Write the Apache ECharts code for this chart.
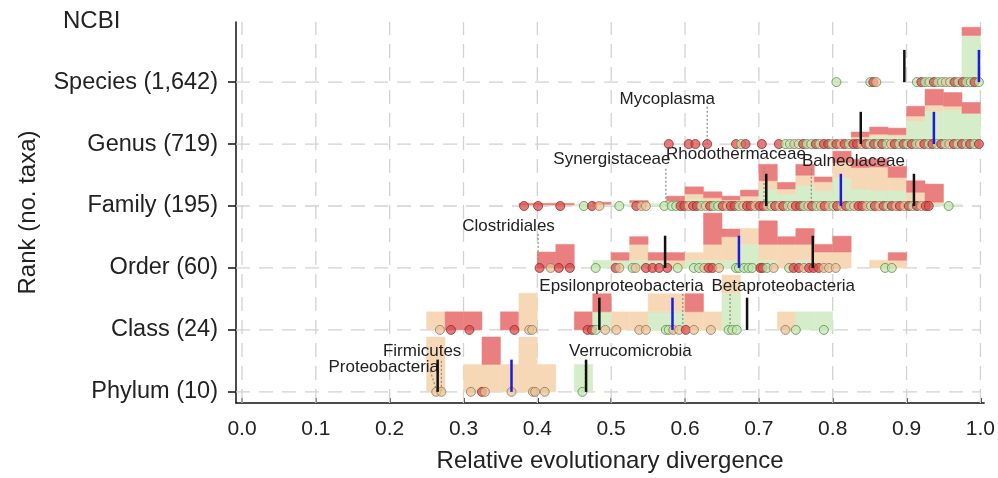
<!DOCTYPE html>
<html>
<head>
<meta charset="utf-8">
<script src="https://cdn.jsdelivr.net/npm/echarts@6/dist/echarts.min.js"></script>
<style>
html, body { margin: 0; padding: 0; background: #fff; }
#chart { width: 998px; height: 478px; }
</style>
</head>
<body>
<div id="chart"></div>
<script>
const ranks = ['Phylum (10)', 'Class (24)', 'Order (60)', 'Family (195)', 'Genus (719)', 'Species (1,642)'];
const xTicks = [0, 0.1, 0.2, 0.3, 0.4, 0.5, 0.6, 0.7, 0.8, 0.9, 1.0];
const binWidth = 0.025;

// histogram bins: [bin start, green, tan, red], % of the tallest bin of the rank
const phylumBins = [
  [0.250, 0, 100, 0], [0.300, 0, 50, 0], [0.325, 0, 50, 50], [0.350, 0, 50, 0],
  [0.375, 0, 100, 0], [0.400, 0, 50, 0], [0.450, 50, 0, 0]
];
const classBins = [
  [0.250, 0, 33, 0], [0.275, 0, 0, 33], [0.300, 0, 0, 33], [0.350, 0, 0, 33],
  [0.375, 0, 67, 0], [0.450, 0, 0, 33], [0.475, 33, 0, 33], [0.500, 0, 33, 0],
  [0.525, 0, 33, 0], [0.550, 33, 33, 0], [0.575, 33, 33, 0], [0.600, 0, 33, 33],
  [0.625, 0, 33, 0], [0.650, 67, 33, 0], [0.725, 0, 33, 0], [0.750, 33, 0, 0],
  [0.775, 33, 0, 0]
];
const orderBins = [
  [0.400, 0, 0, 29], [0.425, 0, 0, 43], [0.475, 14, 0, 0], [0.500, 14, 0, 14],
  [0.525, 14, 29, 14], [0.550, 14, 0, 14], [0.575, 0, 14, 14], [0.600, 14, 14, 0],
  [0.625, 14, 29, 57], [0.650, 14, 43, 14], [0.675, 43, 29, 0], [0.700, 14, 29, 43],
  [0.725, 0, 43, 14], [0.750, 14, 29, 29], [0.775, 0, 29, 14], [0.800, 0, 29, 29],
  [0.850, 0, 14, 0], [0.875, 0, 14, 14]
];
const familyBins = [
  [0.375, 2, 0, 3], [0.400, 2, 0, 3], [0.425, 2, 0, 3], [0.450, 3, 0, 0],
  [0.475, 3, 0, 4], [0.500, 3, 0, 0], [0.525, 3, 3, 4], [0.550, 4, 0, 0],
  [0.575, 7, 2, 9], [0.600, 13, 9, 13], [0.625, 9, 6, 11], [0.650, 7, 4, 7],
  [0.675, 9, 9, 11], [0.700, 31, 15, 30], [0.725, 22, 9, 12], [0.750, 37, 19, 20],
  [0.775, 28, 16, 9], [0.800, 52, 27, 21], [0.825, 31, 39, 15], [0.850, 28, 43, 15],
  [0.875, 28, 24, 20], [0.900, 7, 18, 21], [0.925, 4, 3, 33], [0.950, 3, 0, 0]
];
const genusBins = [
  [0.800, 0, 0, 5], [0.825, 9, 4, 9], [0.850, 14, 4, 13], [0.875, 13, 4, 12],
  [0.900, 42, 9, 18], [0.925, 60, 11, 29], [0.950, 62, 7, 25], [0.975, 56, 0, 20]
];
const speciesBins = [
  [0.975, 85, 0, 15]
];
const rankBins = [phylumBins, classBins, orderBins, familyBins, genusBins, speciesBins];

// taxa: [relative evolutionary divergence, group]  g / t / r
const phylumTaxa = [
  [0.263, 't'], [0.270, 't'], [0.310, 't'], [0.325, 'r'], [0.329, 't'], [0.365, 't'],
  [0.394, 't'], [0.397, 't'], [0.410, 't'], [0.461, 'g']
];
const classTaxa = [
  [0.268, 't'], [0.283, 'r'], [0.308, 'r'], [0.369, 'r'], [0.389, 't'], [0.393, 't'],
  [0.468, 'r'], [0.474, 'r'], [0.479, 'g'], [0.492, 't'], [0.507, 't'], [0.538, 't'],
  [0.547, 't'], [0.574, 'g'], [0.578, 'g'], [0.584, 't'], [0.592, 't'], [0.601, 'r'],
  [0.612, 't'], [0.635, 't'], [0.659, 'g'], [0.664, 'g'], [0.670, 'g'], [0.736, 't'],
  [0.750, 'g'], [0.788, 'g']
];
const orderTaxa = [
  [0.403, 'r'], [0.418, 't'], [0.429, 'r'], [0.444, 'r'], [0.479, 'g'], [0.506, 'r'],
  [0.511, 't'], [0.529, 'g'], [0.533, 't'], [0.547, 'r'], [0.556, 'r'], [0.565, 'r'],
  [0.576, 'r'], [0.590, 'g'], [0.612, 'g'], [0.619, 'g'], [0.626, 't'], [0.632, 'r'],
  [0.637, 'r'], [0.646, 't'], [0.669, 'g'], [0.673, 'g'], [0.680, 'g'], [0.686, 'g'],
  [0.691, 'g'], [0.702, 'r'], [0.705, 'r'], [0.711, 'g'], [0.720, 't'], [0.741, 'g'],
  [0.747, 'r'], [0.754, 'r'], [0.761, 't'], [0.768, 'r'], [0.774, 'r'], [0.781, 'r'],
  [0.788, 't'], [0.795, 't'], [0.804, 't'], [0.871, 'g'], [0.880, 'g']
];
const familyTaxa = [
  [0.382, 'r'], [0.401, 'r'], [0.431, 'r'], [0.463, 'g'], [0.474, 'r'], [0.484, 't'],
  [0.511, 'g'], [0.534, 'r'], [0.541, 't'], [0.547, 't'], [0.572, 'g'], [0.582, 'g'],
  [0.588, 'g'], [0.594, 'r'], [0.599, 'r'], [0.605, 't'], [0.611, 'r'], [0.616, 'r'],
  [0.622, 'g'], [0.628, 't'], [0.634, 'r'], [0.639, 'g'], [0.645, 'g'], [0.651, 'r'],
  [0.657, 't'], [0.662, 'r'], [0.667, 'r'], [0.673, 'g'], [0.679, 't'], [0.684, 'r'],
  [0.689, 'r'], [0.695, 't'], [0.701, 'r'], [0.706, 'r'], [0.711, 't'], [0.717, 'g'],
  [0.722, 'r'], [0.728, 't'], [0.733, 'r'], [0.739, 'g'], [0.745, 't'], [0.750, 'r'],
  [0.756, 'r'], [0.761, 'g'], [0.767, 't'], [0.772, 'r'], [0.778, 'g'], [0.784, 't'],
  [0.789, 'r'], [0.795, 't'], [0.801, 'g'], [0.806, 'r'], [0.812, 't'], [0.818, 'r'],
  [0.823, 'g'], [0.829, 't'], [0.835, 'r'], [0.840, 'r'], [0.846, 't'], [0.852, 'g'],
  [0.857, 'r'], [0.863, 't'], [0.869, 'r'], [0.874, 'g'], [0.880, 'r'], [0.886, 't'],
  [0.891, 'r'], [0.897, 't'], [0.903, 'r'], [0.908, 'g'], [0.914, 'r'], [0.920, 't'],
  [0.926, 'r'], [0.930, 'r'], [0.957, 'g']
];
const genusTaxa = [
  [0.578, 'r'], [0.605, 'r'], [0.614, 'r'], [0.630, 'r'], [0.669, 'r'], [0.676, 'g'],
  [0.682, 'r'], [0.704, 'r'], [0.727, 'r'], [0.736, 'g'], [0.742, 'g'], [0.748, 't'],
  [0.754, 'g'], [0.760, 'r'], [0.765, 'g'], [0.771, 'g'], [0.777, 'r'], [0.782, 'g'],
  [0.788, 'r'], [0.794, 'r'], [0.799, 'g'], [0.805, 'r'], [0.811, 't'], [0.816, 'r'],
  [0.822, 'g'], [0.828, 'r'], [0.833, 'r'], [0.839, 't'], [0.845, 'r'], [0.850, 'g'],
  [0.856, 'r'], [0.862, 'g'], [0.867, 'r'], [0.873, 'g'], [0.879, 't'], [0.884, 'r'],
  [0.890, 'g'], [0.896, 'r'], [0.901, 'g'], [0.907, 'r'], [0.913, 'g'], [0.918, 't'],
  [0.924, 'r'], [0.930, 'g'], [0.935, 'r'], [0.941, 'g'], [0.947, 'r'], [0.952, 'g'],
  [0.958, 't'], [0.964, 'r'], [0.969, 'g'], [0.975, 'r'], [0.981, 'g'], [0.986, 'r'],
  [0.992, 'g'], [0.998, 'r']
];
const speciesTaxa = [
  [0.805, 'g'], [0.851, 'g'], [0.855, 'r'], [0.859, 't'], [0.914, 'g'], [0.920, 'r'],
  [0.925, 'g'], [0.931, 'g'], [0.937, 'r'], [0.942, 'g'], [0.948, 'g'], [0.953, 't'],
  [0.959, 'g'], [0.965, 'r'], [0.970, 'g'], [0.976, 'r'], [0.981, 'g'], [0.987, 'g'],
  [0.992, 'r'], [0.998, 'g']
];
const rankTaxa = [phylumTaxa, classTaxa, orderTaxa, familyTaxa, genusTaxa, speciesTaxa];

// vertical markers: [rank index, value]
const blackMarks = [
  [0, 0.265], [0, 0.466], [1, 0.484], [1, 0.684], [2, 0.573], [2, 0.773],
  [3, 0.710], [3, 0.910], [4, 0.838], [5, 0.897]
];
const blueMarks = [
  [0, 0.365], [1, 0.583], [2, 0.673], [3, 0.811], [4, 0.937], [5, 0.998]
];

// labelled taxa: [name, rank index, value]
const annotations = [
  ['Mycoplasma', 4, 0.630],
  ['Synergistaceae', 3, 0.574],
  ['Rhodothermaceae', 3, 0.707],
  ['Balneolaceae', 3, 0.771],
  ['Clostridiales', 2, 0.401],
  ['Epsilonproteobacteria', 1, 0.597],
  ['Betaproteobacteria', 1, 0.661],
  ['Firmicutes', 0, 0.270],
  ['Proteobacteria', 0, 0.264],
  ['Verrucomicrobia', 0, 0.465]
];
// label layout: [label centre x, label height above rank, leader top, leader top x]
const labelSpots = [
  [0.576, 0.72, 0.60, null],
  [0.501, 0.76, 0.60, null],
  [0.669, 0.84, 0.63, null],
  [0.828, 0.72, 0.60, null],
  [0.361, 0.675, 0.55, null],
  [0.514, 0.707, 0.58, null],
  [0.733, 0.707, 0.58, null],
  [0.244, 0.66, 0.50, null],
  [0.192, 0.40, 0.34, 0.255],
  [0.526, 0.66, 0.50, null]
];

const X_MIN = -0.0081, X_MAX = 1.005, Y_MIN = -0.18, Y_MAX = 5.97;
const HIST_SCALE = 0.885 / 100;
const MARK_LEN = 0.52;
const histColors = ['#d5edc9', '#f7d8b6', '#ea7f7f'];
const pointStyle = {
  g: { color: 'rgba(196,228,176,0.9)', borderColor: '#5d8f4c' },
  t: { color: 'rgba(236,194,148,0.9)', borderColor: '#8d7b62' },
  r: { color: 'rgba(222,72,72,0.9)', borderColor: '#8a2f2f' }
};
const FONT = '"Liberation Sans", Arial, sans-serif';

const histData = [];
rankBins.forEach((bins, rk) => bins.forEach(b => histData.push([b[0], rk, b[1], b[2], b[3]])));

const pointData = [];
rankTaxa.forEach((taxa, rk) => taxa.forEach(p => {
  pointData.push({ value: [p[0], rk], itemStyle: pointStyle[p[1]] });
}));

const annData = annotations.map((a, i) => {
  const s = labelSpots[i];
  return [a[2], a[1], s[0], s[1], s[2], s[3] == null ? a[2] : s[3], a[0]];
});

const dash = { stroke: '#d2d2d2', lineWidth: 1.3, lineDash: [14, 9] };

const chart = echarts.init(document.getElementById('chart'));
chart.setOption({
  animation: false,
  title: {
    text: 'NCBI', left: 58, top: 4,
    textStyle: { fontFamily: FONT, fontSize: 24, fontWeight: 'normal', color: '#222' }
  },
  grid: { left: 236, right: 12.3, top: 22, bottom: 74 },
  xAxis: {
    type: 'value', min: X_MIN, max: X_MAX,
    name: 'Relative evolutionary divergence', nameLocation: 'middle', nameGap: 46,
    nameTextStyle: { fontFamily: FONT, fontSize: 24, color: '#222' },
    axisLine: { onZero: false, lineStyle: { color: '#111', width: 1.5 } },
    axisTick: { inside: true, length: 5, customValues: xTicks, lineStyle: { color: '#111', width: 1.5 } },
    axisLabel: {
      customValues: xTicks, formatter: v => v.toFixed(1), margin: 16,
      fontFamily: FONT, fontSize: 21, color: '#222'
    },
    splitLine: { show: false }
  },
  yAxis: {
    type: 'value', min: Y_MIN, max: Y_MAX,
    name: 'Rank (no. taxa)', nameLocation: 'middle', nameRotate: 90, nameGap: 196,
    nameTextStyle: { fontFamily: FONT, fontSize: 24, color: '#222' },
    axisLine: { onZero: false, lineStyle: { color: '#111', width: 1.5 } },
    axisTick: { length: 8, customValues: [0, 1, 2, 3, 4, 5], lineStyle: { color: '#111', width: 1.5 } },
    axisLabel: {
      customValues: [0, 1, 2, 3, 4, 5], formatter: v => ranks[Math.round(v)], margin: 18,
      fontFamily: FONT, fontSize: 23.5, color: '#222'
    },
    splitLine: { show: false }
  },
  series: [
    {
      type: 'custom', z: 1, silent: true,
      data: xTicks.map(v => [v]),
      renderItem: (params, api) => {
        const a = api.coord([api.value(0), Y_MIN]);
        const b = api.coord([api.value(0), Y_MAX]);
        return { type: 'line', shape: { x1: a[0], y1: a[1], x2: b[0], y2: b[1] }, style: dash };
      }
    },
    {
      type: 'custom', z: 1, silent: true,
      data: ranks.map((r, i) => [i]),
      renderItem: (params, api) => {
        const a = api.coord([X_MIN, api.value(0)]);
        const b = api.coord([1.0, api.value(0)]);
        return { type: 'line', shape: { x1: a[0], y1: a[1], x2: b[0], y2: b[1] }, style: dash };
      }
    },
    {
      type: 'custom', z: 2, silent: true,
      data: histData,
      renderItem: (params, api) => {
        const x0 = api.value(0), rk = api.value(1);
        const children = [];
        let acc = 0;
        [api.value(2), api.value(3), api.value(4)].forEach((h, k) => {
          if (h <= 0) return;
          const p0 = api.coord([x0, rk + acc * HIST_SCALE]);
          const p1 = api.coord([x0 + binWidth, rk + (acc + h) * HIST_SCALE]);
          children.push({
            type: 'rect',
            shape: { x: p0[0], y: p1[1], width: p1[0] - p0[0], height: p0[1] - p1[1] },
            style: { fill: histColors[k], stroke: histColors[k], lineWidth: 0.5 }
          });
          acc += h;
        });
        return { type: 'group', children };
      }
    },
    {
      type: 'custom', z: 3, silent: true,
      data: annData,
      renderItem: (params, api) => {
        const v = api.value(0), rk = api.value(1);
        const base = api.coord([v, rk]);
        const top = api.coord([api.value(5), rk + api.value(4)]);
        const lab = api.coord([api.value(2), rk + api.value(3)]);
        return {
          type: 'group',
          children: [
            {
              type: 'line', shape: { x1: top[0], y1: top[1], x2: base[0], y2: base[1] },
              style: { stroke: '#8a8a8a', lineWidth: 1.2, lineDash: [2, 2] }
            },
            {
              type: 'text', z2: 10,
              style: {
                x: lab[0], y: lab[1], text: annData[params.dataIndex][6],
                align: 'center', verticalAlign: 'middle',
                fontFamily: FONT, fontSize: 17, fill: '#222'
              }
            }
          ]
        };
      }
    },
    {
      type: 'scatter', z: 4, silent: true,
      symbol: 'circle', symbolSize: 9,
      itemStyle: { borderWidth: 1 },
      data: pointData
    },
    {
      type: 'custom', z: 5, silent: true,
      data: blackMarks.map(m => [m[1], m[0], 0]).concat(blueMarks.map(m => [m[1], m[0], 1])),
      renderItem: (params, api) => {
        const a = api.coord([api.value(0), api.value(1)]);
        const b = api.coord([api.value(0), api.value(1) + MARK_LEN]);
        return {
          type: 'line', shape: { x1: a[0], y1: a[1], x2: b[0], y2: b[1] },
          style: { stroke: api.value(2) ? '#1c1ce0' : '#111', lineWidth: 2.5 }
        };
      }
    }
  ]
});
</script>
</body>
</html>
